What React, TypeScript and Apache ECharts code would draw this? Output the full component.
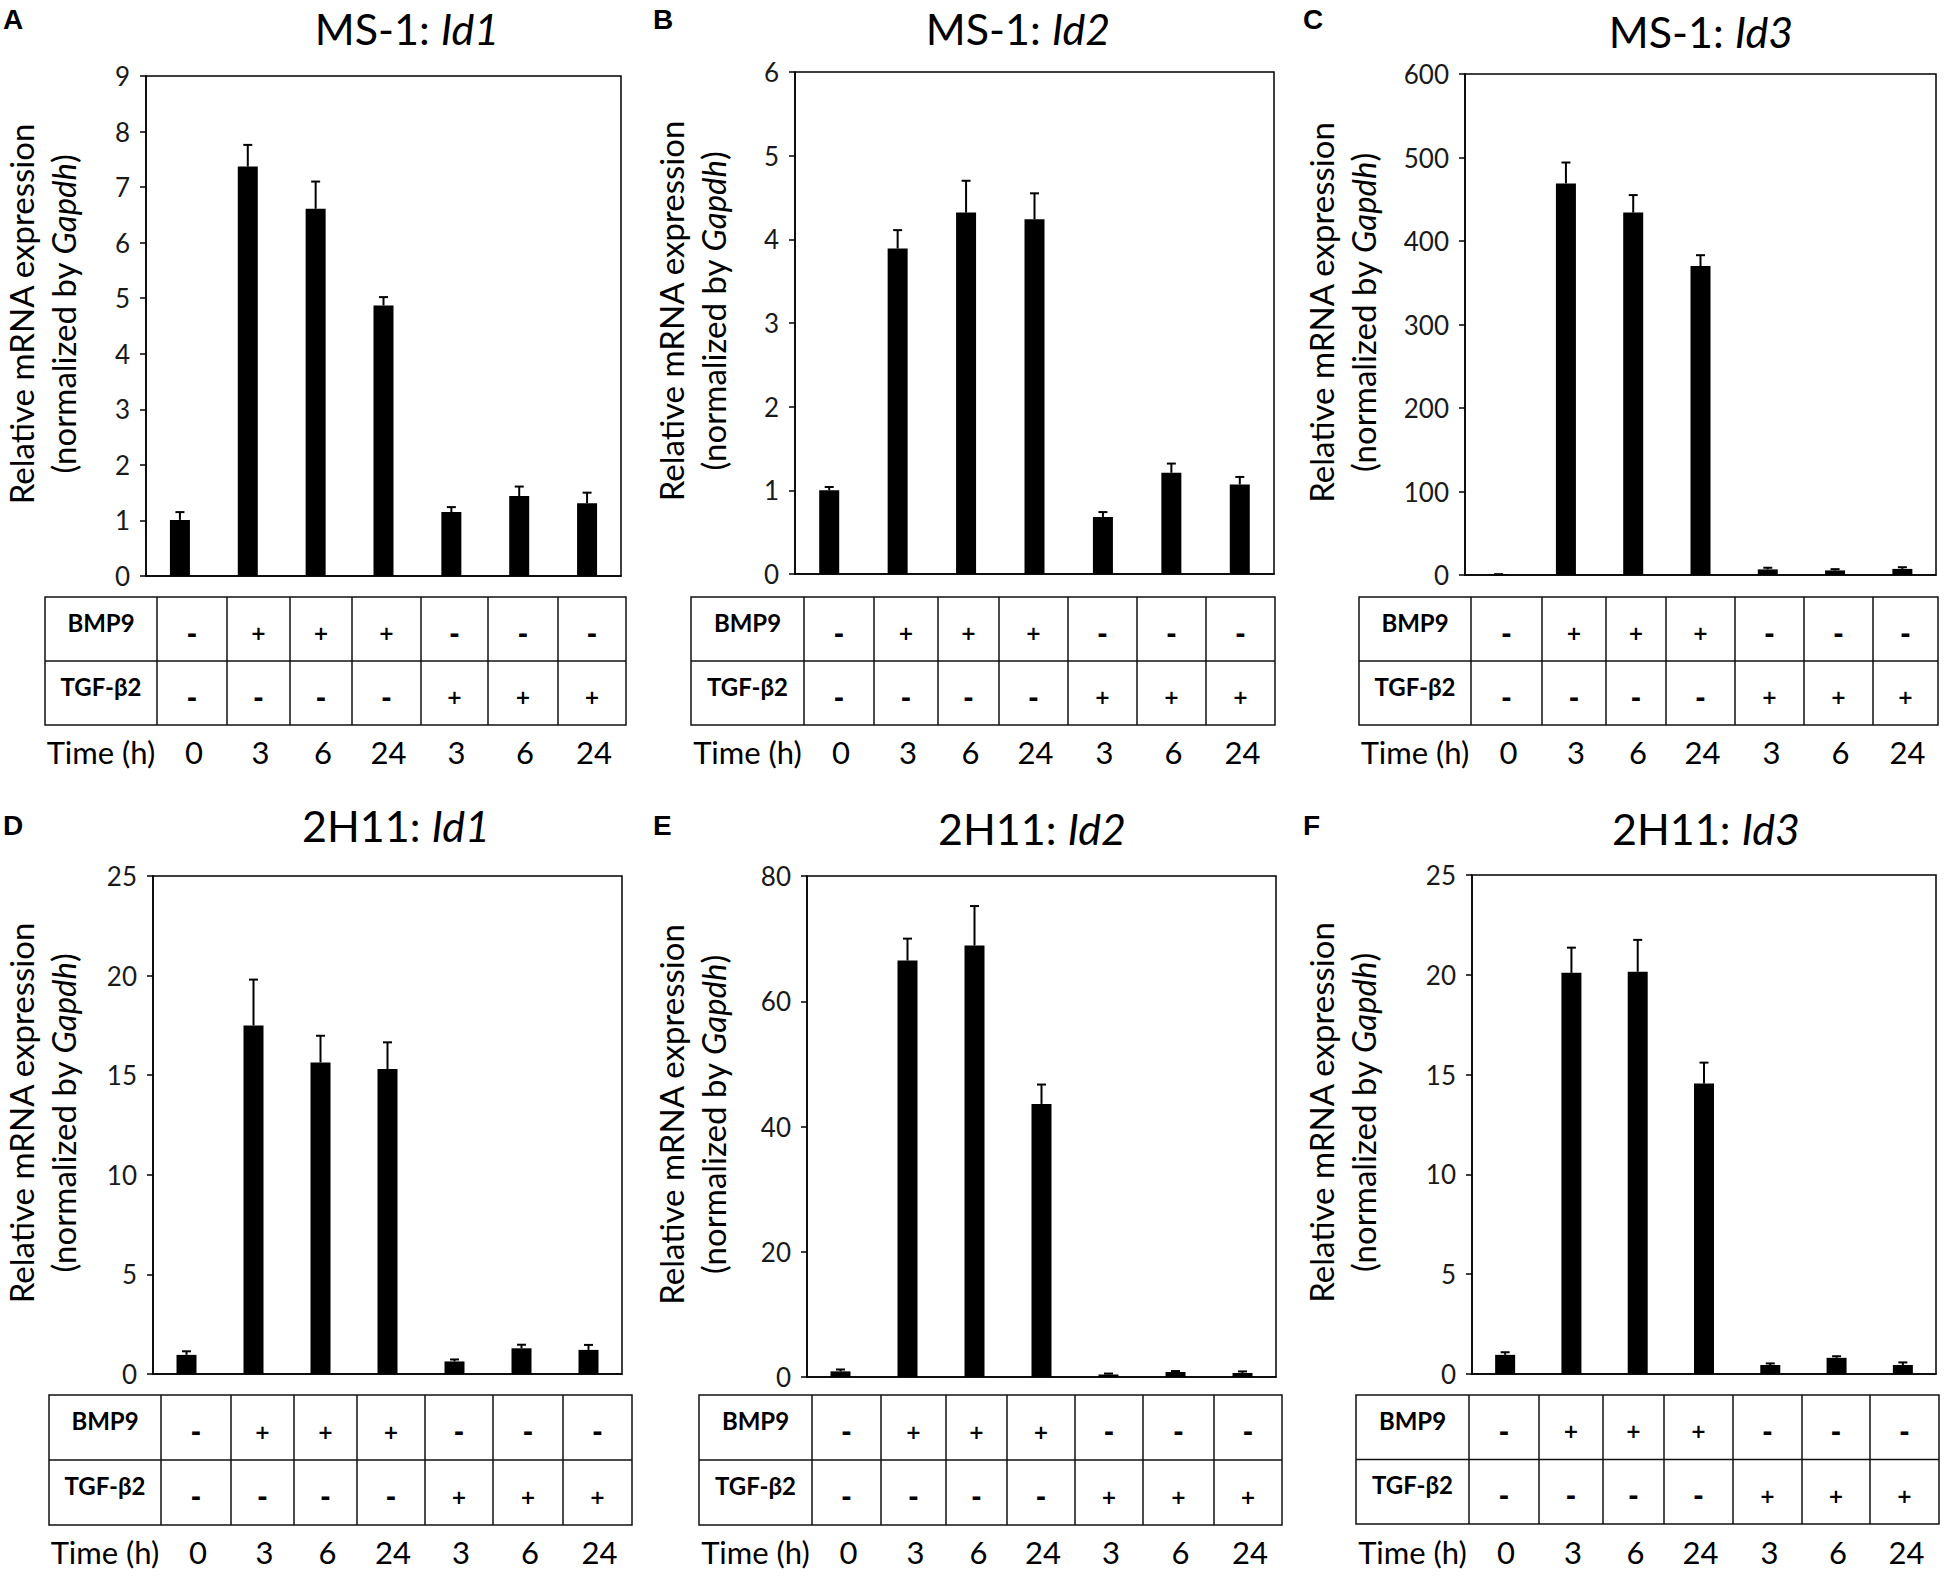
import React, { useEffect, useRef } from 'react';
import * as echarts from 'echarts';

// conditions (hidden category names) and the treatment table under each panel
const conditions = ['Ctrl 0 h', 'BMP9 3 h', 'BMP9 6 h', 'BMP9 24 h', 'TGF-b2 3 h', 'TGF-b2 6 h', 'TGF-b2 24 h'];
const bmp9Row = ['-', '+', '+', '+', '-', '-', '-'];
const tgfRow = ['-', '-', '-', '-', '+', '+', '+'];
const timeRow = ['0', '3', '6', '24', '3', '6', '24'];

const panelLetters = ['A', 'B', 'C', 'D', 'E', 'F'];
const cellLines = ['MS-1', 'MS-1', 'MS-1', '2H11', '2H11', '2H11'];
const genes = ['Id1', 'Id2', 'Id3', 'Id1', 'Id2', 'Id3'];

// mean values and upper error bars
const ms1Id1 = [1.01, 7.37, 6.61, 4.87, 1.15, 1.44, 1.31];
const ms1Id1Err = [0.14, 0.39, 0.49, 0.15, 0.09, 0.17, 0.19];
const ms1Id2 = [1.0, 3.89, 4.32, 4.24, 0.68, 1.21, 1.07];
const ms1Id2Err = [0.04, 0.22, 0.38, 0.31, 0.06, 0.11, 0.09];
const ms1Id3 = [1, 469, 434, 370, 6.7, 5.5, 7.3];
const ms1Id3Err = [0, 25, 21, 13, 2, 1.5, 2];
const h2Id1 = [0.96, 17.5, 15.64, 15.31, 0.63, 1.29, 1.21];
const h2Id1Err = [0.18, 2.3, 1.34, 1.34, 0.1, 0.18, 0.25];
const h2Id2 = [0.9, 66.5, 68.9, 43.6, 0.4, 0.8, 0.64];
const h2Id2Err = [0.3, 3.5, 6.3, 3.1, 0.15, 0.15, 0.25];
const h2Id3 = [0.96, 20.1, 20.15, 14.55, 0.45, 0.81, 0.45];
const h2Id3Err = [0.13, 1.26, 1.6, 1.05, 0.08, 0.08, 0.13];

const panelValues = [ms1Id1, ms1Id2, ms1Id3, h2Id1, h2Id2, h2Id3];
const panelErrors = [ms1Id1Err, ms1Id2Err, ms1Id3Err, h2Id1Err, h2Id2Err, h2Id3Err];
const yMaxes = [9, 6, 600, 25, 80, 25];
const yIntervals = [1, 1, 100, 5, 20, 5];

// layout of each panel (pixels, relative to the panel's origin)
const layouts = [
  { ox: 0, oy: 0, plot: [146, 76, 621, 576], table: [45, 597, 626, 725], cols: [157, 227, 290, 352, 421, 488, 558], titleX: 407, titleY: 28, letterY: 19, timeY: 752 },
  { ox: 650, oy: 0, plot: [145, 72, 624, 574], table: [41, 597, 625, 725], cols: [154, 224, 288, 349, 418, 487, 556], titleX: 368, titleY: 28, letterY: 19, timeY: 752 },
  { ox: 1300, oy: 0, plot: [165, 74, 636, 575], table: [59, 597, 638, 725], cols: [171, 242, 306, 366, 435, 504, 573], titleX: 401, titleY: 31, letterY: 19, timeY: 752 },
  { ox: 0, oy: 800, plot: [153, 76, 622, 574], table: [49, 595, 632, 725], cols: [161, 231, 294, 357, 425, 493, 563], titleX: 396, titleY: 25, letterY: 25, timeY: 752 },
  { ox: 650, oy: 800, plot: [157, 76, 626, 577], table: [49, 595, 632, 725], cols: [162, 231, 296, 357, 425, 493, 564], titleX: 382, titleY: 28, letterY: 25, timeY: 752 },
  { ox: 1300, oy: 800, plot: [172, 75, 636, 574], table: [56, 595, 639, 724], cols: [169, 239, 303, 364, 433, 502, 570], titleX: 406, titleY: 28, letterY: 25, timeY: 752 },
];

const FONT = 'Lato, "Open Sans", sans-serif';

const App: React.FC = () => {
  const chartRef = useRef<HTMLDivElement>(null);

  useEffect(() => {
    const chart = echarts.init(chartRef.current!, null, { renderer: 'svg' });

    const grids: any[] = [];
    const xAxes: any[] = [];
    const yAxes: any[] = [];
    const series: any[] = [];
    const graphics: any[] = [];

    layouts.forEach((L, i) => {
      const [pl, pt, pr, pb] = L.plot;
      grids.push({
        left: L.ox + pl,
        top: L.oy + pt,
        width: pr - pl,
        height: pb - pt,
        show: true,
        borderColor: '#000',
        borderWidth: 1.5,
        backgroundColor: 'transparent',
      });
      xAxes.push({
        type: 'category',
        gridIndex: i,
        data: conditions,
        axisLine: { show: true, lineStyle: { color: '#000', width: 1.5 } },
        axisTick: { show: false },
        axisLabel: { show: false },
      });
      yAxes.push({
        type: 'value',
        gridIndex: i,
        min: 0,
        max: yMaxes[i],
        interval: yIntervals[i],
        axisLine: { show: true, lineStyle: { color: '#000', width: 1.5 } },
        axisTick: { show: true, inside: false, length: 6, lineStyle: { color: '#000', width: 1.5 } },
        axisLabel: { color: '#1a1a1a', fontSize: 26, fontFamily: FONT, margin: 16 },
        splitLine: { show: false },
      });
      series.push({
        type: 'bar',
        xAxisIndex: i,
        yAxisIndex: i,
        data: panelValues[i],
        barWidth: 20,
        itemStyle: { color: '#000' },
      });
      series.push({
        type: 'custom',
        xAxisIndex: i,
        yAxisIndex: i,
        data: panelValues[i].map((v, k) => [k, v, panelErrors[i][k]]),
        encode: { x: 0, y: 1 },
        renderItem: (params: any, api: any) => {
          const x = api.value(0);
          const v = api.value(1);
          const e = api.value(2);
          const base = api.coord([x, v]);
          const top = api.coord([x, v + e]);
          return {
            type: 'group',
            children: [
              { type: 'line', shape: { x1: base[0], y1: base[1], x2: top[0], y2: top[1] }, style: { stroke: '#000', lineWidth: 2 } },
              { type: 'line', shape: { x1: top[0] - 4.5, y1: top[1], x2: top[0] + 4.5, y2: top[1] }, style: { stroke: '#000', lineWidth: 2 } },
            ],
          };
        },
        z: 3,
      });

      // panel letter
      graphics.push({
        type: 'text',
        x: L.ox + 3,
        y: L.oy + L.letterY,
        style: { text: panelLetters[i], fontFamily: 'Liberation Sans, Arial, sans-serif', fontWeight: 'bold', fontSize: 28, fill: '#000', align: 'left', verticalAlign: 'middle' },
      });
      // title
      graphics.push({
        type: 'text',
        x: L.ox + L.titleX,
        y: L.oy + L.titleY,
        style: {
          text: `{n|${cellLines[i]}: }{i|${genes[i]}}`,
          align: 'center',
          verticalAlign: 'middle',
          rich: {
            n: { fontFamily: FONT, fontSize: 43, fill: '#000' },
            i: { fontFamily: FONT, fontSize: 43, fontStyle: 'italic', fill: '#000' },
          },
        },
      });
      // y-axis title, two lines
      const midY = L.oy + (pt + pb) / 2 - 12;
      graphics.push({
        type: 'text',
        x: L.ox + 21,
        y: midY,
        rotation: Math.PI / 2,
        style: { text: 'Relative mRNA expression', fontFamily: FONT, fontSize: 33, fill: '#000', align: 'center', verticalAlign: 'middle' },
      });
      graphics.push({
        type: 'text',
        x: L.ox + 63,
        y: midY,
        rotation: Math.PI / 2,
        style: {
          text: '{n|(normalized by }{i|Gapdh}{n|)}',
          align: 'center',
          verticalAlign: 'middle',
          rich: {
            n: { fontFamily: FONT, fontSize: 33, fill: '#000' },
            i: { fontFamily: FONT, fontSize: 33, fontStyle: 'italic', fill: '#000' },
          },
        },
      });

      // treatment table
      const [tl, tt, tr, tb] = L.table;
      const tm = (tt + tb) / 2;
      const lineStyle = { stroke: '#111', lineWidth: 1.5 };
      graphics.push({ type: 'rect', shape: { x: L.ox + tl, y: L.oy + tt, width: tr - tl, height: tb - tt }, style: { fill: 'none', ...lineStyle } });
      graphics.push({ type: 'line', shape: { x1: L.ox + tl, y1: L.oy + tm, x2: L.ox + tr, y2: L.oy + tm }, style: lineStyle });
      L.cols.forEach((cx) => {
        graphics.push({ type: 'line', shape: { x1: L.ox + cx, y1: L.oy + tt, x2: L.ox + cx, y2: L.oy + tb }, style: lineStyle });
      });
      const edges = [tl, ...L.cols, tr];
      const labelCx = L.ox + (edges[0] + edges[1]) / 2;
      const row1 = L.oy + (tt + tm) / 2;
      const row2 = L.oy + (tm + tb) / 2;
      const headStyle = { fontFamily: FONT, fontWeight: 'bold', fontSize: 24, fill: '#000', align: 'center', verticalAlign: 'middle' };
      graphics.push({ type: 'text', x: labelCx, y: row1 - 7, style: { text: 'BMP9', ...headStyle } });
      graphics.push({ type: 'text', x: labelCx, y: row2 - 7, style: { text: 'TGF-β2', ...headStyle } });
      const timeStyle = { fontFamily: FONT, fontSize: 31, fill: '#000', align: 'center', verticalAlign: 'middle' };
      graphics.push({ type: 'text', x: labelCx, y: L.oy + L.timeY, style: { text: 'Time (h)', ...timeStyle } });
      const signStyle = (s: string) => ({
        text: s,
        fontFamily: '"DejaVu Sans", sans-serif',
        fontWeight: 'bold',
        fontSize: s === '+' ? 19 : 25,
        fill: '#000',
        align: 'center',
        verticalAlign: 'middle',
      });
      for (let k = 0; k < conditions.length; k++) {
        const cx = L.ox + (edges[k + 1] + edges[k + 2]) / 2;
        graphics.push({ type: 'text', x: cx, y: row1 + 4, style: signStyle(bmp9Row[k]) });
        graphics.push({ type: 'text', x: cx, y: row2 + 4, style: signStyle(tgfRow[k]) });
        graphics.push({ type: 'text', x: cx + 2, y: L.oy + L.timeY, style: { text: timeRow[k], ...timeStyle } });
      }
    });

    chart.setOption({
      animation: false,
      backgroundColor: '#fff',
      grid: grids,
      xAxis: xAxes,
      yAxis: yAxes,
      series,
      graphic: { elements: graphics },
    });

    return () => {
      chart.dispose();
    };
  }, []);

  return <div ref={chartRef} style={{ position: 'absolute', left: 0, top: 0, width: 1950, height: 1591 }} />;
};

export default App;
